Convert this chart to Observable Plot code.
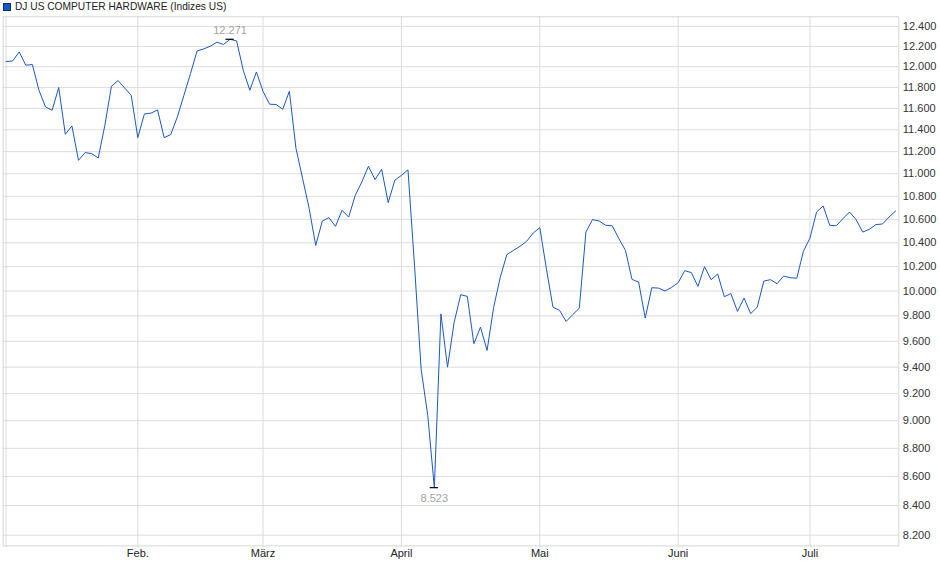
<!DOCTYPE html>
<html>
<head>
<meta charset="utf-8">
<script src="https://cdn.jsdelivr.net/npm/d3@7"></script>
<script src="https://cdn.jsdelivr.net/npm/@observablehq/plot@0.6"></script>
<style>
  body { margin: 0; background: #fff; font-family: "Liberation Sans", Arial, sans-serif; }
  #wrap { position: relative; width: 940px; height: 579px; }
  #legend { position: absolute; left: 3px; top: 0px; font-size: 10.2px; color: #222; line-height: 14px; display: flex; align-items: center; white-space: nowrap; }
  #legend .sw { display: inline-block; width: 6px; height: 6px; background: #1a58c4; border: 1px solid #0b2f7a; margin-right: 4px; }
  #chart { position: absolute; left: 0; top: 0; }
</style>
</head>
<body>
<div id="wrap">
  <div id="chart"></div>
  <div id="legend"><span class="sw"></span><span>DJ US COMPUTER HARDWARE (Indizes US)</span></div>
</div>
<script>
// Daily closes per month (trading days), index points
const jan = [12051, 12056, 12145, 12015, 12021, 11773, 11614, 11583, 11799, 11359, 11436, 11121, 11191, 11182, 11142, 11442, 11811, 11866, 11795, 11725];
const feb = [11328, 11548, 11556, 11586, 11328, 11356, 11520, 11725, 11934, 12155, 12175, 12202, 12242, 12219, 12271, 12254, 11966, 11773, 11949];
const mar = [11763, 11640, 11637, 11592, 11763, 11230, 10960, 10695, 10378, 10586, 10615, 10540, 10678, 10620, 10809, 10927, 11067, 10948, 11040, 10745, 10942];
const apr = [10986, 11035, 10203, 9383, 9038, 8523, 9816, 9400, 9748, 9970, 9957, 9581, 9711, 9529, 9868, 10112, 10300, 10336, 10370, 10412, 10483];
const may = [10529, 10184, 9870, 9844, 9756, 9810, 9862, 10491, 10598, 10586, 10549, 10545, 10435, 10336, 10095, 10073, 9783, 10027, 10024, 10000, 10030];
const jun = [10068, 10167, 10151, 10038, 10200, 10093, 10139, 9954, 9979, 9836, 9943, 9818, 9870, 10081, 10093, 10060, 10122, 10109, 10105, 10328];
const jul = [10440, 10663, 10716, 10549, 10545, 10606, 10663, 10598, 10491, 10514, 10555, 10560, 10620, 10672];

const months = [jan, feb, mar, apr, may, jun, jul];
const monthLabels = ["", "Feb.", "März", "April", "Mai", "Juni", "Juli"];
const yTicks = d3.range(8200, 12401, 200);

const values = months.flat();
const monthStart = [];
{ let acc = 0; for (const m of months) { monthStart.push(acc); acc += m.length; } }

const series = values.map((v, i) => ({ i, v }));
const hiIdx = d3.maxIndex(values);
const loIdx = d3.minIndex(values);
const hi = [{ i: hiIdx, v: values[hiIdx] }];
const lo = [{ i: loIdx, v: values[loIdx] }];

const de = d3.formatLocale({ decimal: ",", thousands: ".", grouping: [3], currency: ["", " €"] });
const fmt = de.format(",d");

const chart = Plot.plot({
  width: 940,
  height: 579,
  marginLeft: 2.7,
  marginRight: 41.7,
  marginTop: 16.3,
  marginBottom: 33.6,
  style: { fontFamily: "'Liberation Sans', Arial, sans-serif", fontSize: "11px", background: "#fff", overflow: "visible" },
  x: { type: "linear", domain: [-0.425, values.length - 1 + 0.48] },
  y: { type: "log", domain: [8129, 12497] },
  marks: [
    Plot.gridY(yTicks, { stroke: "#dcdcdc", strokeOpacity: 1 }),
    Plot.ruleX(monthStart, { stroke: "#dcdcdc", strokeOpacity: 1, insetBottom: -2 }),
    Plot.frame({ stroke: "#d6d6d6" }),
    Plot.line(series, { x: "i", y: "v", stroke: "#1a58c4", strokeWidth: 1 }),
    Plot.ruleY(hi, { y: "v", x1: d => d.i - 0.63, x2: d => d.i + 0.63, stroke: "#000", strokeWidth: 1.2 }),
    Plot.ruleY(lo, { y: "v", x1: d => d.i - 0.63, x2: d => d.i + 0.63, stroke: "#000", strokeWidth: 1.2 }),
    Plot.text(hi, { x: "i", y: "v", text: d => fmt(d.v), dy: -9, fill: "#a3a3a3", fontSize: 11 }),
    Plot.text(lo, { x: "i", y: "v", text: d => fmt(d.v), dy: 10.5, fill: "#a3a3a3", fontSize: 11 }),
    Plot.axisY(yTicks, { anchor: "right", tickSize: 0, tickPadding: 4, tickFormat: fmt, fill: "#333", fontSize: 11, label: null }),
    Plot.axisX(monthStart.slice(1), { anchor: "bottom", tickSize: 0, tickPadding: 3.6, tickFormat: d => monthLabels[monthStart.indexOf(d)], fill: "#222", fontSize: 11, label: null })
  ]
});
document.getElementById("chart").appendChild(chart);
</script>
</body>
</html>
